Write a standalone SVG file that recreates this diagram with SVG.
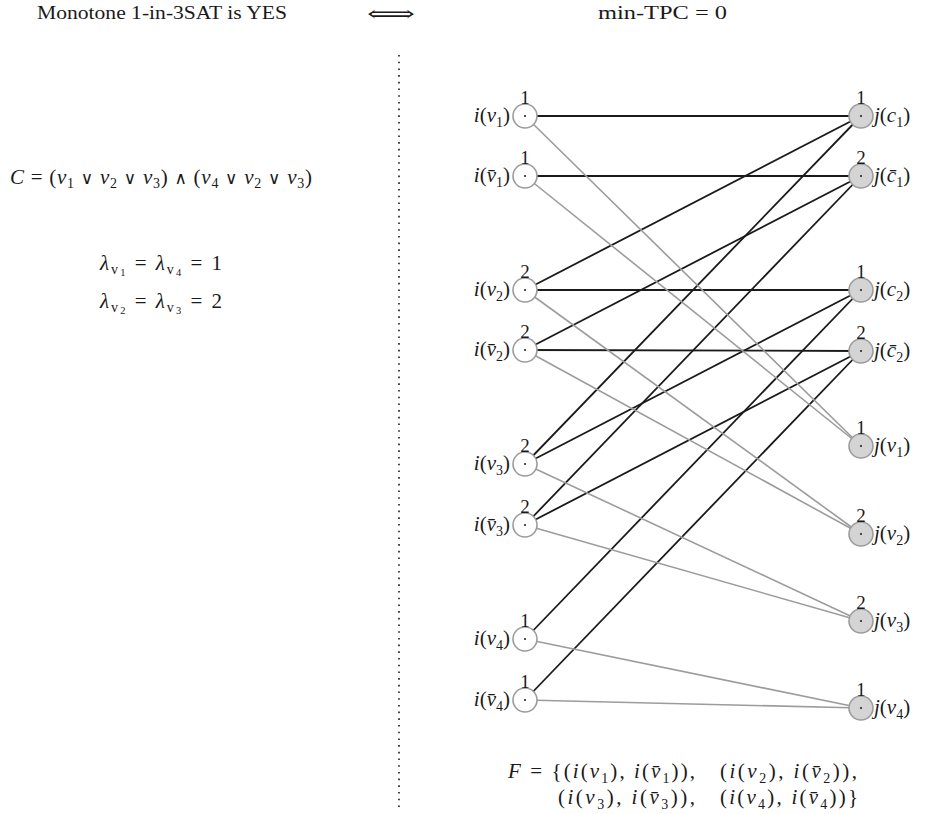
<svg xmlns="http://www.w3.org/2000/svg" width="926" height="814" viewBox="0 0 926 814">
  <style>
    text { font-family: "Liberation Serif", "DejaVu Serif", serif; font-size: 21px; fill: #1a1a1a; }
    .it { font-style: italic; }
    .sub { font-size: 14px; font-style: normal; }
    .ssub { font-size: 10.5px; font-style: normal; }
    .num { font-size: 19px; text-anchor: middle; }
    .lbl-l { text-anchor: end; }
    .lbl-r { text-anchor: start; }
    .sym { font-family: "DejaVu Serif", "Liberation Serif", serif; font-size: 17px; }
    .head { font-size: 18px; }
    .edge-b { stroke: #1a1a1a; stroke-width: 1.8; }
    .edge-g { stroke: #9c9c9c; stroke-width: 1.6; }
    .node-i { fill: #ffffff; stroke: #9c9c9c; stroke-width: 1.6; }
    .node-j { fill: #d4d4d4; stroke: #9c9c9c; stroke-width: 1.6; }
    .dot { fill: #1a1a1a; }
  </style>

  <!-- header line -->
  <text class="head" x="37" y="19" textLength="250" lengthAdjust="spacingAndGlyphs">Monotone 1-in-3SAT is YES</text>
  <text x="367" y="21" font-family="DejaVu Sans" font-size="22" textLength="48" lengthAdjust="spacingAndGlyphs">⟺</text>
  <text class="head" x="598" y="19" textLength="129" lengthAdjust="spacingAndGlyphs">min-TPC = 0</text>

  <!-- separator -->
  <line x1="399" y1="55" x2="399" y2="812" stroke="#1a1a1a" stroke-width="1.6" stroke-dasharray="1.6 5.1"/>

  <!-- instance description -->
  <text x="10" y="184" font-size="19" textLength="302" lengthAdjust="spacing"><tspan class="it">C</tspan> = (<tspan class="it">v</tspan><tspan class="sub" dy="4">1</tspan><tspan dy="-4"> <tspan class="sym">∨</tspan> </tspan><tspan class="it">v</tspan><tspan class="sub" dy="4">2</tspan><tspan dy="-4"> <tspan class="sym">∨</tspan> </tspan><tspan class="it">v</tspan><tspan class="sub" dy="4">3</tspan><tspan dy="-4">) <tspan class="sym">∧</tspan> (</tspan><tspan class="it">v</tspan><tspan class="sub" dy="4">4</tspan><tspan dy="-4"> <tspan class="sym">∨</tspan> </tspan><tspan class="it">v</tspan><tspan class="sub" dy="4">2</tspan><tspan dy="-4"> <tspan class="sym">∨</tspan> </tspan><tspan class="it">v</tspan><tspan class="sub" dy="4">3</tspan><tspan dy="-4">)</tspan></text>
  <text x="100" y="270" font-size="20" textLength="122" lengthAdjust="spacing"><tspan class="it">λ</tspan><tspan class="sub it" dy="4">v</tspan><tspan class="ssub" dy="2">1</tspan><tspan dy="-6"> = </tspan><tspan class="it">λ</tspan><tspan class="sub it" dy="4">v</tspan><tspan class="ssub" dy="2">4</tspan><tspan dy="-6"> = 1</tspan></text>
  <text x="100" y="308" font-size="20" textLength="122" lengthAdjust="spacing"><tspan class="it">λ</tspan><tspan class="sub it" dy="4">v</tspan><tspan class="ssub" dy="2">2</tspan><tspan dy="-6"> = </tspan><tspan class="it">λ</tspan><tspan class="sub it" dy="4">v</tspan><tspan class="ssub" dy="2">3</tspan><tspan dy="-6"> = 2</tspan></text>

  <!-- connectors -->
  <g id="connectors">
    <!-- clause c1 -->
    <line class="edge-b" x1="525" y1="116" x2="861" y2="116"/>
    <line class="edge-b" x1="525" y1="290" x2="861" y2="116"/>
    <line class="edge-b" x1="525" y1="464" x2="861" y2="116"/>
    <!-- clause c1 bar -->
    <line class="edge-b" x1="525" y1="176" x2="861" y2="176"/>
    <line class="edge-b" x1="525" y1="350" x2="861" y2="176"/>
    <line class="edge-b" x1="525" y1="525" x2="861" y2="176"/>
    <!-- clause c2 -->
    <line class="edge-b" x1="525" y1="290" x2="861" y2="290"/>
    <line class="edge-b" x1="525" y1="464" x2="861" y2="290"/>
    <line class="edge-b" x1="525" y1="639" x2="861" y2="290"/>
    <!-- clause c2 bar -->
    <line class="edge-b" x1="525" y1="350" x2="861" y2="351"/>
    <line class="edge-b" x1="525" y1="525" x2="861" y2="351"/>
    <line class="edge-b" x1="525" y1="700" x2="861" y2="351"/>
    <!-- variable pairs -->
    <line class="edge-g" x1="525" y1="116" x2="861" y2="446"/>
    <line class="edge-g" x1="525" y1="176" x2="861" y2="446"/>
    <line class="edge-g" x1="525" y1="290" x2="861" y2="534"/>
    <line class="edge-g" x1="525" y1="350" x2="861" y2="534"/>
    <line class="edge-g" x1="525" y1="464" x2="861" y2="621"/>
    <line class="edge-g" x1="525" y1="525" x2="861" y2="621"/>
    <line class="edge-g" x1="525" y1="639" x2="861" y2="708"/>
    <line class="edge-g" x1="525" y1="700" x2="861" y2="708"/>
  </g>

  <!-- left nodes i(.) -->
  <g id="i-v1">
    <circle class="node-i" cx="525" cy="116" r="12"/><circle class="dot" cx="525" cy="116" r="1"/>
    <text class="num" x="525" y="104">1</text>
    <text class="lbl-l" x="510" y="122"><tspan class="it">i</tspan>(<tspan class="it">v</tspan><tspan class="sub" dy="5">1</tspan><tspan dy="-5">)</tspan></text>
  </g>
  <g id="i-nv1">
    <circle class="node-i" cx="525" cy="176" r="12"/><circle class="dot" cx="525" cy="176" r="1"/>
    <text class="num" x="525" y="164">1</text>
    <text class="lbl-l" x="510" y="182"><tspan class="it">i</tspan>(<tspan class="it">v̄</tspan><tspan class="sub" dy="5">1</tspan><tspan dy="-5">)</tspan></text>
  </g>
  <g id="i-v2">
    <circle class="node-i" cx="525" cy="290" r="12"/><circle class="dot" cx="525" cy="290" r="1"/>
    <text class="num" x="525" y="278">2</text>
    <text class="lbl-l" x="510" y="296"><tspan class="it">i</tspan>(<tspan class="it">v</tspan><tspan class="sub" dy="5">2</tspan><tspan dy="-5">)</tspan></text>
  </g>
  <g id="i-nv2">
    <circle class="node-i" cx="525" cy="350" r="12"/><circle class="dot" cx="525" cy="350" r="1"/>
    <text class="num" x="525" y="338">2</text>
    <text class="lbl-l" x="510" y="356"><tspan class="it">i</tspan>(<tspan class="it">v̄</tspan><tspan class="sub" dy="5">2</tspan><tspan dy="-5">)</tspan></text>
  </g>
  <g id="i-v3">
    <circle class="node-i" cx="525" cy="464" r="12"/><circle class="dot" cx="525" cy="464" r="1"/>
    <text class="num" x="525" y="452">2</text>
    <text class="lbl-l" x="510" y="470"><tspan class="it">i</tspan>(<tspan class="it">v</tspan><tspan class="sub" dy="5">3</tspan><tspan dy="-5">)</tspan></text>
  </g>
  <g id="i-nv3">
    <circle class="node-i" cx="525" cy="525" r="12"/><circle class="dot" cx="525" cy="525" r="1"/>
    <text class="num" x="525" y="513">2</text>
    <text class="lbl-l" x="510" y="531"><tspan class="it">i</tspan>(<tspan class="it">v̄</tspan><tspan class="sub" dy="5">3</tspan><tspan dy="-5">)</tspan></text>
  </g>
  <g id="i-v4">
    <circle class="node-i" cx="525" cy="639" r="12"/><circle class="dot" cx="525" cy="639" r="1"/>
    <text class="num" x="525" y="627">1</text>
    <text class="lbl-l" x="510" y="645"><tspan class="it">i</tspan>(<tspan class="it">v</tspan><tspan class="sub" dy="5">4</tspan><tspan dy="-5">)</tspan></text>
  </g>
  <g id="i-nv4">
    <circle class="node-i" cx="525" cy="700" r="12"/><circle class="dot" cx="525" cy="700" r="1"/>
    <text class="num" x="525" y="688">1</text>
    <text class="lbl-l" x="510" y="706"><tspan class="it">i</tspan>(<tspan class="it">v̄</tspan><tspan class="sub" dy="5">4</tspan><tspan dy="-5">)</tspan></text>
  </g>

  <!-- right nodes j(.) -->
  <g id="j-c1">
    <circle class="node-j" cx="861" cy="116" r="12"/><circle class="dot" cx="861" cy="116" r="1"/>
    <text class="num" x="861" y="104">1</text>
    <text class="lbl-r" x="874" y="122"><tspan class="it">j</tspan>(<tspan class="it">c</tspan><tspan class="sub" dy="5">1</tspan><tspan dy="-5">)</tspan></text>
  </g>
  <g id="j-nc1">
    <circle class="node-j" cx="861" cy="176" r="12"/><circle class="dot" cx="861" cy="176" r="1"/>
    <text class="num" x="861" y="164">2</text>
    <text class="lbl-r" x="874" y="182"><tspan class="it">j</tspan>(<tspan class="it">c̄</tspan><tspan class="sub" dy="5">1</tspan><tspan dy="-5">)</tspan></text>
  </g>
  <g id="j-c2">
    <circle class="node-j" cx="861" cy="290" r="12"/><circle class="dot" cx="861" cy="290" r="1"/>
    <text class="num" x="861" y="278">1</text>
    <text class="lbl-r" x="874" y="296"><tspan class="it">j</tspan>(<tspan class="it">c</tspan><tspan class="sub" dy="5">2</tspan><tspan dy="-5">)</tspan></text>
  </g>
  <g id="j-nc2">
    <circle class="node-j" cx="861" cy="351" r="12"/><circle class="dot" cx="861" cy="351" r="1"/>
    <text class="num" x="861" y="339">2</text>
    <text class="lbl-r" x="874" y="357"><tspan class="it">j</tspan>(<tspan class="it">c̄</tspan><tspan class="sub" dy="5">2</tspan><tspan dy="-5">)</tspan></text>
  </g>
  <g id="j-v1">
    <circle class="node-j" cx="861" cy="446" r="12"/><circle class="dot" cx="861" cy="446" r="1"/>
    <text class="num" x="861" y="434">1</text>
    <text class="lbl-r" x="874" y="452"><tspan class="it">j</tspan>(<tspan class="it">v</tspan><tspan class="sub" dy="5">1</tspan><tspan dy="-5">)</tspan></text>
  </g>
  <g id="j-v2">
    <circle class="node-j" cx="861" cy="534" r="12"/><circle class="dot" cx="861" cy="534" r="1"/>
    <text class="num" x="861" y="522">2</text>
    <text class="lbl-r" x="874" y="540"><tspan class="it">j</tspan>(<tspan class="it">v</tspan><tspan class="sub" dy="5">2</tspan><tspan dy="-5">)</tspan></text>
  </g>
  <g id="j-v3">
    <circle class="node-j" cx="861" cy="621" r="12"/><circle class="dot" cx="861" cy="621" r="1"/>
    <text class="num" x="861" y="609">2</text>
    <text class="lbl-r" x="874" y="627"><tspan class="it">j</tspan>(<tspan class="it">v</tspan><tspan class="sub" dy="5">3</tspan><tspan dy="-5">)</tspan></text>
  </g>
  <g id="j-v4">
    <circle class="node-j" cx="861" cy="708" r="12"/><circle class="dot" cx="861" cy="708" r="1"/>
    <text class="num" x="861" y="696">1</text>
    <text class="lbl-r" x="874" y="714"><tspan class="it">j</tspan>(<tspan class="it">v</tspan><tspan class="sub" dy="5">4</tspan><tspan dy="-5">)</tspan></text>
  </g>

  <!-- forbidden pairs -->
  <text x="508" y="778" textLength="187" lengthAdjust="spacing"><tspan class="it">F</tspan> = {(<tspan class="it">i</tspan>(<tspan class="it">v</tspan><tspan class="sub" dy="5">1</tspan><tspan dy="-5">), </tspan><tspan class="it">i</tspan>(<tspan class="it">v̄</tspan><tspan class="sub" dy="5">1</tspan><tspan dy="-5">)),</tspan></text>
  <text x="720" y="778" textLength="137" lengthAdjust="spacing">(<tspan class="it">i</tspan>(<tspan class="it">v</tspan><tspan class="sub" dy="5">2</tspan><tspan dy="-5">), </tspan><tspan class="it">i</tspan>(<tspan class="it">v̄</tspan><tspan class="sub" dy="5">2</tspan><tspan dy="-5">)),</tspan></text>
  <text x="558" y="804" textLength="137" lengthAdjust="spacing">(<tspan class="it">i</tspan>(<tspan class="it">v</tspan><tspan class="sub" dy="5">3</tspan><tspan dy="-5">), </tspan><tspan class="it">i</tspan>(<tspan class="it">v̄</tspan><tspan class="sub" dy="5">3</tspan><tspan dy="-5">)),</tspan></text>
  <text x="720" y="804" textLength="138" lengthAdjust="spacing">(<tspan class="it">i</tspan>(<tspan class="it">v</tspan><tspan class="sub" dy="5">4</tspan><tspan dy="-5">), </tspan><tspan class="it">i</tspan>(<tspan class="it">v̄</tspan><tspan class="sub" dy="5">4</tspan><tspan dy="-5">))}</tspan></text>
</svg>
